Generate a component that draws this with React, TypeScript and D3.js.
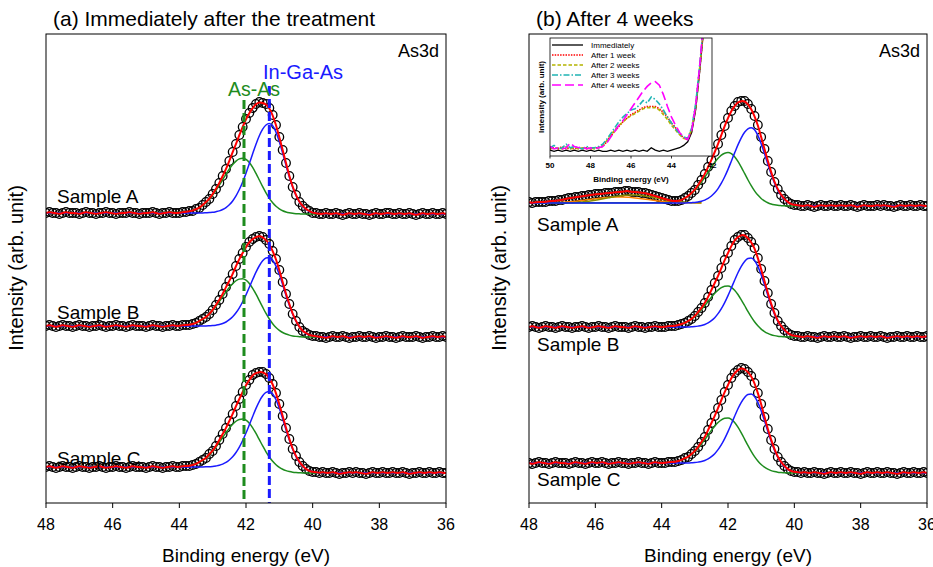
import React from "react";
import * as d3 from "d3";

const FONT = "Arial, 'Liberation Sans', Helvetica, sans-serif";
const W = 933;
const H = 567;
const PT = 34;
const PB = 503;

// ---------- grids / categories ----------
const energy: number[] = d3.range(121).map((i) => Math.round((48 - i * 0.1) * 10) / 10); // 48.0 -> 36.0
const fitEnergy: number[] = [48, ...energy.slice(40, 83), 36]; // 48, 44.0 -> 39.8, 36
const oxideEnergy: number[] = d3.range(27).map((i) => Math.round((48 - i * 0.2) * 10) / 10); // 48.0 -> 42.8
const insetEnergy: number[] = d3.range(39).map((i) => Math.round((50 - i * 0.2) * 10) / 10); // 50.0 -> 42.4
const xTicks = [48, 46, 44, 42, 40, 38, 36];
const insetTicks = [50, 48, 46, 44, 42];
const sampleNames = ["Sample A", "Sample B", "Sample C"];
const insetLabels = ["Immediately", "After 1 week", "After 2 weeks", "After 3 weeks", "After 4 weeks"];
const markerAsAs = 42.06;
const markerInGaAs = 41.3;

// ---------- measured spectra (arb. unit above each sample's low-BE baseline) ----------
const aSampleA = [
  1,2,1,1,0,1,2,1,1,1, 0,1,2,1,1,0,1,1,2,1, 1,0,1,1,1,2,1,1,0,1, 1,1,2,1,0,1,1,2,1,1,
  1,2,2,3,3,5,6,9,12,15,20,25,31,38,45,53,62,70,79,87,95,101,106,110,112,111,110,106,99,89,77,64,51,38,27,19,12,8,5,3,1,1,0,
  0,1,0,0,1,0,-1,0,1,0, 0,1,0,0,-1,0,1,0,0,1, 1,0,0,1,0,0,1,0,-1,0, 1,0,0,1,0,0,1,0,
];
const aSampleB = [
  11,12,11,10,11,12,11,11,10,11, 12,11,11,10,11,11,12,11,10,11, 11,12,11,11,10,11,12,11,11,11, 10,11,12,11,11,10,11,11,12,11,
  11,12,12,12,13,14,16,18,20,23,27,32,37,43,50,56,63,71,78,84,90,95,98,100,101,100,97,93,86,78,67,55,43,33,23,16,10,6,4,2,1,1,0,
  0,-1,0,1,0,0,1,0,-1,0, 0,1,0,0,1,0,-1,0,0,1, 0,0,-1,0,1,0,0,0,1,0, -1,0,0,1,0,0,1,0,
];
const aSampleC = [
  6,7,6,5,6,7,6,6,5,6, 7,6,6,5,6,6,7,6,5,6, 6,7,6,6,5,6,7,6,6,6, 5,6,7,6,6,5,6,6,7,6,
  6,7,7,7,8,9,11,13,15,19,22,27,33,39,45,52,59,67,74,81,88,93,98,100,101,101,99,95,89,80,69,57,45,34,24,17,11,7,4,2,1,1,0,
  1,0,0,1,0,-1,0,0,1,0, 1,0,0,-1,0,1,0,0,1,0, 0,1,0,0,1,0,-1,0,0,1, 0,0,1,0,0,1,0,0,
];
const bSampleA = [
  4,3,4,4,4,4,5,5,5,6, 6,7,8,8,9,9,10,10,11,11, 12,12,12,13,13,13,14,14,14,15, 15,14,14,14,13,13,12,11,10,9,
  8,7,6,5,5,5,6,8,10,13,16,21,26,32,39,46,54,62,71,80,88,95,100,104,105,105,102,97,90,81,69,57,45,34,24,17,11,7,4,2,1,1,0,
  0,1,0,-1,0,1,0,0,1,0, 0,1,0,0,1,0,-1,0,1,0, 0,0,1,0,1,0,0,-1,0,1, 0,0,1,0,0,1,0,0,
];
const bSampleB = [
  10,11,10,9,10,11,10,10,9,10, 11,10,10,9,10,10,11,10,9,10, 10,11,10,10,9,10,11,10,10,10, 9,10,11,10,10,9,10,10,11,10,
  10,10,11,11,11,12,13,14,16,18,21,25,29,34,40,47,54,61,69,77,84,91,97,100,102,102,99,95,89,79,68,56,44,33,24,16,11,7,4,2,1,1,0,
  0,1,0,0,-1,0,1,0,0,1, 0,0,1,0,-1,0,0,1,0,0, 1,0,0,1,0,-1,0,0,1,0, 0,1,0,0,1,0,0,1,
];
const bSampleC = [
  10,9,10,11,10,10,9,10,11,10, 10,10,9,10,11,10,10,9,10,11, 10,10,11,10,9,10,10,11,10,10, 9,10,10,11,10,10,9,10,11,10,
  10,10,11,11,11,12,13,15,16,19,22,26,31,36,43,50,57,65,73,81,88,95,100,103,105,104,101,97,90,80,69,56,44,33,24,16,11,7,4,2,1,1,0,
  1,0,0,1,0,0,-1,0,1,0, 0,1,0,0,1,0,0,-1,0,1, 0,0,1,0,0,1,0,0,-1,0, 1,0,0,1,0,0,1,0,
];

// vertical stacking offsets and fit-component parameters per sample
const aOffsets = [289, 166, 30];
const aSteps = [1, 11, 6];
const aBlueHeights = [90, 75, 79];
const aGreenHeights = [55, 49, 49];
const bOffsets = [297, 166, 30];
const bSteps = [3, 10, 10];
const bBlueHeights = [77, 75, 75];
const bGreenHeights = [51, 43, 47];

// normalised fit-component profiles on fitEnergy
const shirley = [1,
  1,1,1,1,1,0.99,0.99,0.99,0.985,0.985,0.98,0.975,0.97,0.96,0.95,0.94,0.92,0.9,0.87,0.84,0.8,0.76,0.71,0.66,0.6,0.54,0.47,0.4,0.33,0.27,0.21,0.16,0.12,0.08,0.05,0.03,0.02,0.01,0,0,0,0,0,
  0];
const blueShape = [0,
  0,0,0,0,0,0,0,0.001,0.003,0.005,0.008,0.015,0.024,0.039,0.061,0.093,0.135,0.191,0.262,0.347,0.445,0.552,0.662,0.768,0.862,0.936,0.984,1,0.976,0.906,0.801,0.674,0.539,0.411,0.298,0.206,0.135,0.085,0.05,0.028,0.015,0.008,0.004,
  0];
const greenShapeA = [0,
  0.007,0.011,0.018,0.028,0.044,0.066,0.096,0.135,0.186,0.249,0.325,0.411,0.506,0.607,0.707,0.801,0.882,0.946,0.986,1,0.98,0.923,0.835,0.726,0.607,0.487,0.375,0.278,0.198,0.135,0.089,0.056,0.034,0.02,0.011,0.006,0.003,0,0,0,0,0,0,
  0];
const greenShapeB = [0,
  0.004,0.007,0.011,0.018,0.028,0.044,0.066,0.096,0.135,0.186,0.249,0.325,0.411,0.506,0.607,0.707,0.801,0.882,0.946,0.986,1,0.98,0.923,0.835,0.726,0.607,0.487,0.375,0.278,0.198,0.135,0.089,0.056,0.034,0.02,0.011,0.006,0.003,0,0,0,0,0,
  0];
// oxide components of panel (b) sample A, on oxideEnergy
const oxideOrange = [0,0.08,0.15,0.28,0.49,0.81,1.27,1.86,2.6,3.43,4.28,5.05,5.64,5.96,5.96,5.64,5.05,4.28,3.43,2.6,1.86,1.27,0.81,0.49,0.28,0.15,0.08];
const oxideOlive = [0,0,0.01,0.03,0.07,0.16,0.32,0.61,1.08,1.78,2.73,3.89,5.17,6.41,7.38,7.93,7.93,7.38,6.41,5.17,3.89,2.73,1.78,1.08,0.61,0.32,0.16];

// ---------- inset series (on insetEnergy) ----------
const insetImmediate = [5,4,5,4,5,4,5,4,5,4, 5,4,5,4,4,5,4,5,4,5, 4,5,4,5,4,7,5,4,5,4, 5,6,7,9,12,20,40,73,110];
const insetWeek1 = [6,7,6,8,6,7,6,7,6,7, 6,7,7,8,12,17,21,25,29,32, 35,37,39,41,42,42,42,40,37,33, 28,24,19,15,14,22,42,75,110];
const insetWeek2 = [7,6,7,6,8,6,7,6,7,6, 7,6,7,9,13,18,22,26,29,32, 34,36,38,40,41,41,41,39,35,31, 26,22,18,15,14,23,43,76,112];
const insetWeek3 = [7,9,6,7,10,7,8,7,6,8, 7,7,8,10,14,19,24,29,33,36, 39,40,43,47,45,50,48,44,39,33, 28,23,19,16,15,24,45,78,115];
const insetWeek4 = [8,6,7,6,7,11,8,7,8,6, 7,6,7,8,11,16,21,26,30,35, 40,45,50,55,59,62,63,60,52,42, 33,26,20,16,14,22,44,78,118];

const GREEN = "#1e8c1e";
const BLUE = "#1a1aff";
const RED = "#ff0000";
const insetColors = ["#000000", "#ff0000", "#b4b400", "#1fb4b4", "#ff00ff"];
const insetDash = ["", "1.5,1.2", "3.5,2", "6,2,1.5,2", "9,4"];

type PanelConf = {
  id: string;
  left: number;
  right: number;
  title: string;
  data: number[][];
  offsets: number[];
  steps: number[];
  blueH: number[];
  greenH: number[];
  greenShape: number[];
  labelX: number;
  labelY: number[];
  markers: boolean;
  oxide: boolean;
};

const panelA: PanelConf = {
  id: "a", left: 46, right: 446, title: "(a) Immediately after the treatment",
  data: [aSampleA, aSampleB, aSampleC], offsets: aOffsets, steps: aSteps,
  blueH: aBlueHeights, greenH: aGreenHeights, greenShape: greenShapeA,
  labelX: 57, labelY: [203, 319, 465], markers: true, oxide: false,
};
const panelB: PanelConf = {
  id: "b", left: 529, right: 927, title: "(b) After 4 weeks",
  data: [bSampleA, bSampleB, bSampleC], offsets: bOffsets, steps: bSteps,
  blueH: bBlueHeights, greenH: bGreenHeights, greenShape: greenShapeB,
  labelX: 537, labelY: [231, 351, 486], markers: false, oxide: true,
};

function Panel({ c }: { c: PanelConf }) {
  const x = d3.scaleLinear().domain([48, 36]).range([c.left, c.right]);
  const y = d3.scaleLinear().domain([0, 469]).range([PB, PT]);
  const fitLine = d3.line<number>().x((_, j) => x(fitEnergy[j])).y((v) => y(v)).curve(d3.curveMonotoneX);
  const dataLine = d3.line<number>().x((_, i) => x(energy[i])).y((v) => y(v)).curve(d3.curveBasis);
  const oxLine = d3.line<number>().x((_, j) => x(oxideEnergy[j])).y((v) => y(v)).curve(d3.curveMonotoneX);
  const clipId = `clip-${c.id}`;
  const cx = (c.left + c.right) / 2;
  return (
    <g>
      <defs>
        <clipPath id={clipId}>
          <rect x={c.left} y={PT} width={c.right - c.left} height={PB - PT} />
        </clipPath>
      </defs>
      <g clipPath={`url(#${clipId})`}>
        {c.data.map((series, k) => {
          const off = c.offsets[k];
          const bg = shirley.map((s) => off + c.steps[k] * s);
          const green = bg.map((b, j) => b + c.greenH[k] * c.greenShape[j]);
          const blue = bg.map((b, j) => b + c.blueH[k] * blueShape[j]);
          const abs = series.map((v) => off + v);
          const oxBase = off + c.steps[k];
          return (
            <g key={k}>
              {series.map((v, i) => (
                <circle key={i} cx={x(energy[i])} cy={y(off + v)} r={4.3} fill="none" stroke="#000" strokeWidth={1.3} />
              ))}
              {c.oxide && k === 0 && (
                <g>
                  <path d={oxLine(oxideOrange.map((v) => oxBase + v)) || ""} fill="none" stroke="#ff8000" strokeWidth={1.5} />
                  <path d={oxLine(oxideOlive.map((v) => oxBase + v)) || ""} fill="none" stroke="#8c8c00" strokeWidth={1.5} />
                </g>
              )}
              <path d={fitLine(green) || ""} fill="none" stroke={GREEN} strokeWidth={1.5} />
              <path d={fitLine(blue) || ""} fill="none" stroke={BLUE} strokeWidth={1.5} />
              <path d={dataLine(abs) || ""} fill="none" stroke={RED} strokeWidth={2} />
            </g>
          );
        })}
      </g>
      {c.markers && (
        <g>
          <line x1={x(markerAsAs)} x2={x(markerAsAs)} y1={100} y2={PB} stroke={GREEN} strokeWidth={3} strokeDasharray="9,4" />
          <line x1={x(markerInGaAs)} x2={x(markerInGaAs)} y1={86} y2={PB} stroke={BLUE} strokeWidth={3} strokeDasharray="9,4" />
          <text x={228} y={96} fontSize={19.5} fill={GREEN}>As-As</text>
          <text x={263} y={79} fontSize={20} fill={BLUE}>In-Ga-As</text>
        </g>
      )}
      {sampleNames.map((s, k) => (
        <text key={s} x={c.labelX} y={c.labelY[k]} fontSize={19} fill="#000">{s}</text>
      ))}
      <rect x={c.left} y={PT} width={c.right - c.left} height={PB - PT} fill="none" stroke="#000" strokeWidth={1} />
      {xTicks.map((t) => (
        <g key={t}>
          <line x1={x(t)} x2={x(t)} y1={PB} y2={PB + 5} stroke="#000" strokeWidth={1} />
          <text x={x(t)} y={530} fontSize={16} textAnchor="middle" fill="#000">{t}</text>
        </g>
      ))}
      <text x={cx} y={562} fontSize={19} textAnchor="middle" fill="#000">Binding energy (eV)</text>
      <text transform={`translate(${c.left - 23},${268}) rotate(-90)`} fontSize={20} textAnchor="middle" fill="#000">
        Intensity (arb. unit)
      </text>
      <text x={c.left + 7} y={26} fontSize={21} fill="#000">{c.title}</text>
      <text x={c.right - 7} y={57} fontSize={18} textAnchor="end" fill="#000">As3d</text>
    </g>
  );
}

function Inset() {
  const L = 550, R = 712, T = 38, B = 156;
  const xi = d3.scaleLinear().domain([50, 42]).range([L, R]);
  const yi = d3.scaleLinear().domain([0, 100]).range([B, T]);
  const line = d3.line<number>().x((_, i) => xi(insetEnergy[i])).y((v) => yi(v));
  const series = [insetImmediate, insetWeek1, insetWeek2, insetWeek3, insetWeek4];
  return (
    <g>
      <defs>
        <clipPath id="clip-inset">
          <rect x={L} y={T} width={R - L} height={B - T} />
        </clipPath>
      </defs>
      <rect x={L} y={T} width={R - L} height={B - T} fill="#fff" />
      <g clipPath="url(#clip-inset)">
        {series.map((s, k) => (
          <path key={k} d={line(s) || ""} fill="none" stroke={insetColors[k]} strokeWidth={k === 0 ? 1.3 : 1.6} strokeDasharray={insetDash[k]} />
        ))}
      </g>
      {insetLabels.map((lab, k) => (
        <g key={lab}>
          <line x1={552} x2={583} y1={45 + k * 10} y2={45 + k * 10} stroke={insetColors[k]} strokeWidth={k === 0 ? 1.3 : 1.6} strokeDasharray={insetDash[k]} />
          <text x={591} y={48 + k * 10} fontSize={8} fill="#000">{lab}</text>
        </g>
      ))}
      <rect x={L} y={T} width={R - L} height={B - T} fill="none" stroke="#000" strokeWidth={0.8} />
      {insetTicks.map((t) => (
        <g key={t}>
          <line x1={xi(t)} x2={xi(t)} y1={B} y2={B + 2.5} stroke="#000" strokeWidth={0.8} />
          <text x={xi(t)} y={168} fontSize={8} fontWeight="bold" textAnchor="middle" fill="#000">{t}</text>
        </g>
      ))}
      <text x={(L + R) / 2} y={182} fontSize={8} fontWeight="bold" textAnchor="middle" fill="#000">Binding energy (eV)</text>
      <text transform={`translate(${L - 6},${(T + B) / 2}) rotate(-90)`} fontSize={8} fontWeight="bold" textAnchor="middle" fill="#000">
        Intensity (arb. unit)
      </text>
    </g>
  );
}

export default function App() {
  return (
    <svg width={W} height={H} style={{ position: "absolute", left: 0, top: 0, background: "#fff" }} fontFamily={FONT}>
      <rect x={0} y={0} width={W} height={H} fill="#fff" />
      <Panel c={panelA} />
      <Panel c={panelB} />
      <Inset />
    </svg>
  );
}
